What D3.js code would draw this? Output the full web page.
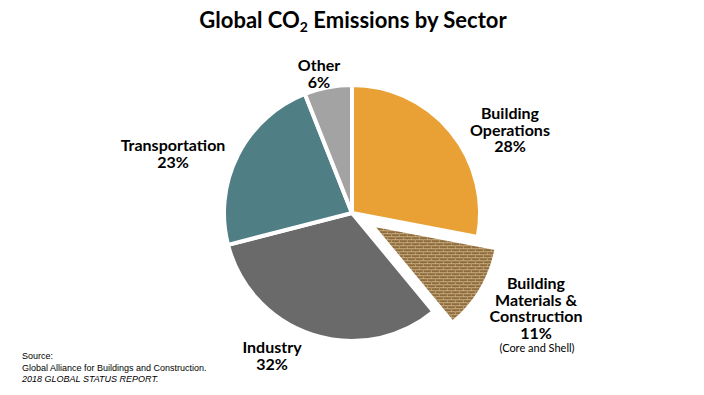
<!DOCTYPE html>
<html><head><meta charset="utf-8">
<script src="https://cdn.jsdelivr.net/npm/d3@7"></script>
<style>
html,body{margin:0;padding:0;background:#fff;}
svg{display:block;}
</style></head>
<body>
<svg id="chart" width="704" height="395"></svg>
<script>
const categories = ["Building Operations", "Building Materials & Construction", "Industry", "Transportation", "Other"];
const values = [28, 11, 32, 23, 6];
const labelLines = [
  ["Building", "Operations", "28%"],
  ["Building", "Materials &", "Construction", "11%"],
  ["Industry", "32%"],
  ["Transportation", "23%"],
  ["Other", "6%"]
];
const subNotes = ["", "(Core and Shell)", "", "", ""];
const sourceLines = ["Source:", "Global Alliance for Buildings and Construction.", "2018 GLOBAL STATUS REPORT."];

// layout
const W = 704, H = 395;
const cx = 352, cy = 213, R = 128;
const explodeIdx = 1, explodeDist = 22;
const colors = ["#E9A135", "url(#brick)", "#6A6A6A", "#4F7E84", "#A3A3A3"];
const labelAnchors = [[510, 119], [536, 289], [272, 353], [173, 151], [319, 71]];
const lineH = 16.5;

const svg = d3.select("#chart");
const defs = svg.append("defs");
const pat = defs.append("pattern").attr("id", "brick").attr("patternUnits", "userSpaceOnUse")
  .attr("width", 8).attr("height", 6);
pat.append("rect").attr("width", 8).attr("height", 6).attr("fill", "#8E6C3E");
pat.append("rect").attr("x", 0).attr("y", 0).attr("width", 8).attr("height", 1).attr("fill", "#C8AD80");
pat.append("rect").attr("x", 0).attr("y", 3).attr("width", 8).attr("height", 1).attr("fill", "#C8AD80");
pat.append("rect").attr("x", 0).attr("y", 0).attr("width", 1).attr("height", 3).attr("fill", "#B79A6C");
pat.append("rect").attr("x", 4).attr("y", 3).attr("width", 1).attr("height", 3).attr("fill", "#B79A6C");

// title
const title = svg.append("text").attr("x", 353).attr("y", 28).attr("text-anchor", "middle")
  .attr("font-family", "Lato, 'Open Sans', sans-serif").attr("font-weight", "bold")
  .attr("font-size", 22).attr("fill", "#000");
title.append("tspan").text("Global CO");
title.append("tspan").attr("font-size", 14).attr("dy", 4).text("2");
title.append("tspan").attr("dy", -4).text(" Emissions by Sector");

const pie = d3.pie().sort(null).value(d => d)(values);
const arc = d3.arc().innerRadius(0).outerRadius(R);

const g = svg.append("g").attr("transform", `translate(${cx},${cy})`);
g.selectAll("path").data(pie).join("path")
  .attr("d", arc)
  .attr("fill", (d, i) => colors[i])
  .attr("stroke", "#fff").attr("stroke-width", 4).attr("stroke-linejoin", "miter")
  .attr("transform", (d, i) => {
    if (i !== explodeIdx) return null;
    const a = (d.startAngle + d.endAngle) / 2;
    return `translate(${Math.sin(a) * explodeDist},${-Math.cos(a) * explodeDist})`;
  });

// labels
categories.forEach((c, i) => {
  const [lx, ly] = labelAnchors[i];
  const t = svg.append("text").attr("text-anchor", "middle")
    .attr("font-family", "Lato, 'Open Sans', sans-serif").attr("font-weight", "bold")
    .attr("font-size", 16).attr("fill", "#000");
  labelLines[i].forEach((ln, k) => {
    t.append("tspan").attr("x", lx).attr("y", ly + k * lineH).text(ln);
  });
  if (subNotes[i]) {
    svg.append("text").attr("x", lx + 1).attr("y", ly + labelLines[i].length * lineH - 3)
      .attr("text-anchor", "middle").attr("font-family", "Lato, 'Open Sans', sans-serif")
      .attr("font-size", 11).attr("fill", "#000").text(subNotes[i]);
  }
});

// source
sourceLines.forEach((s, k) => {
  svg.append("text").attr("x", 22).attr("y", 359 + k * 11.5)
    .attr("font-family", "'Liberation Sans', Arial, sans-serif").attr("font-size", 9)
    .attr("font-style", k === 2 ? "italic" : "normal").attr("fill", "#000").text(s);
});
</script>
</body></html>
